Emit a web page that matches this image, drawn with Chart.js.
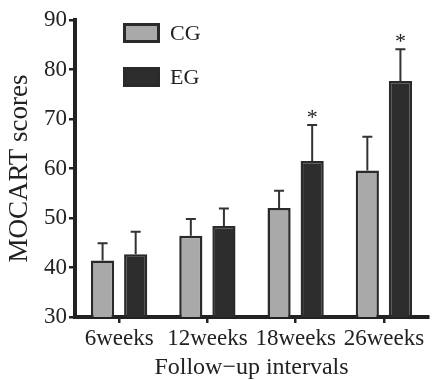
<!DOCTYPE html>
<html lang="en">
<head>
    <meta charset="UTF-8">
    <title>MOCART scores</title>
    <script src="https://cdn.jsdelivr.net/npm/chart.js@4.4.1/dist/chart.umd.min.js"></script>
    <style>
        body { margin: 0; background: #fff; }
        #wrap { width: 432px; height: 380px; }
    </style>
</head>
<body>
    <div id="wrap"><canvas id="myChart"></canvas></div>

    <script>
        // values
        const categories = ["6weeks", "12weeks", "18weeks", "26weeks"];
        const cgMeans = [41.4, 46.4, 52.0, 59.6];
        const cgErrors = [3.5, 3.4, 3.5, 6.8];
        const egMeans = [42.7, 48.4, 61.5, 77.7];
        const egErrors = [4.5, 3.5, 7.3, 6.4];
        const egMarks = ["", "", "*", "*"];
        const yTicks = [30, 40, 50, 60, 70, 80, 90];

        const ink = "#222";
        const serif = "'Liberation Serif', 'Times New Roman', serif";

        // upward error bars + significance stars
        const errorBars = {
            id: "errorBars",
            afterDatasetsDraw(chart) {
                const ctx = chart.ctx;
                const y = chart.scales.y;
                chart.data.datasets.forEach((ds, i) => {
                    const meta = chart.getDatasetMeta(i);
                    meta.data.forEach((bar, j) => {
                        const top = y.getPixelForValue(ds.data[j] + ds.errors[j]);
                        ctx.save();
                        ctx.strokeStyle = "#333";
                        ctx.lineWidth = 2;
                        ctx.beginPath();
                        ctx.moveTo(bar.x, bar.y);
                        ctx.lineTo(bar.x, top);
                        ctx.moveTo(bar.x - 5, top);
                        ctx.lineTo(bar.x + 5, top);
                        ctx.stroke();
                        if (ds.marks && ds.marks[j]) {
                            ctx.fillStyle = ink;
                            ctx.font = "22px " + serif;
                            ctx.textAlign = "center";
                            ctx.textBaseline = "alphabetic";
                            ctx.fillText(ds.marks[j], bar.x, top - 1);
                        }
                        ctx.restore();
                    });
                });
            }
        };

        // legend drawn inside the plot, top left
        const innerLegend = {
            id: "innerLegend",
            afterDraw(chart) {
                const ctx = chart.ctx;
                chart.data.datasets.forEach((ds, i) => {
                    const bx = 123, by = 23 + i * 44;
                    ctx.save();
                    ctx.fillStyle = ds.backgroundColor;
                    ctx.fillRect(bx, by, 37, 20);
                    ctx.strokeStyle = ds.borderColor;
                    ctx.lineWidth = 3;
                    ctx.strokeRect(bx + 1.5, by + 1.5, 34, 17);
                    ctx.fillStyle = ink;
                    ctx.font = "22px " + serif;
                    ctx.textBaseline = "middle";
                    ctx.fillText(ds.label, 170, by + 11);
                    ctx.restore();
                });
            }
        };

        new Chart("myChart", {
            type: "bar",
            data: {
                labels: categories,
                datasets: [{
                    label: "CG",
                    data: cgMeans,
                    errors: cgErrors,
                    backgroundColor: "#a9a9a9",
                    borderColor: "#2a2a2a",
                    borderWidth: 2.5
                }, {
                    label: "EG",
                    data: egMeans,
                    errors: egErrors,
                    marks: egMarks,
                    backgroundColor: "#2d2d2d",
                    borderColor: "#2a2a2a",
                    borderWidth: 2.5
                }]
            },
            options: {
                responsive: true,
                maintainAspectRatio: false,
                animation: false,
                categoryPercentage: 0.75,
                barPercentage: 0.7,
                layout: { padding: { top: 20, right: 4, left: 0, bottom: 0 } },
                plugins: {
                    legend: { display: false },
                    tooltip: { enabled: false }
                },
                scales: {
                    x: {
                        grid: { display: true, drawOnChartArea: false, offset: false, tickLength: 6, color: ink, lineWidth: 2.5 },
                        border: { display: true, color: ink, width: 4 },
                        ticks: { color: ink, padding: 2, maxRotation: 0, font: { family: serif, size: 23 } },
                        title: { display: true, text: "Follow\u2212up intervals", color: ink, padding: 0, font: { family: serif, size: 24, lineHeight: 1 } },
                        afterFit: s => { s.height = 63; }
                    },
                    y: {
                        min: 30,
                        max: 90,
                        afterBuildTicks: s => { s.ticks = yTicks.map(v => ({ value: v })); },
                        grid: { display: true, drawOnChartArea: false, tickLength: 6, color: ink, lineWidth: 2.5 },
                        border: { display: true, color: ink, width: 4 },
                        ticks: { color: ink, padding: 2, font: { family: serif, size: 23 } },
                        title: { display: true, text: "MOCART scores", color: ink, padding: { top: 6, bottom: 0 }, font: { family: serif, size: 27, lineHeight: 1 } },
                        afterFit: s => { s.width = 75; }
                    }
                }
            },
            plugins: [errorBars, innerLegend]
        });
    </script>
</body>
</html>
